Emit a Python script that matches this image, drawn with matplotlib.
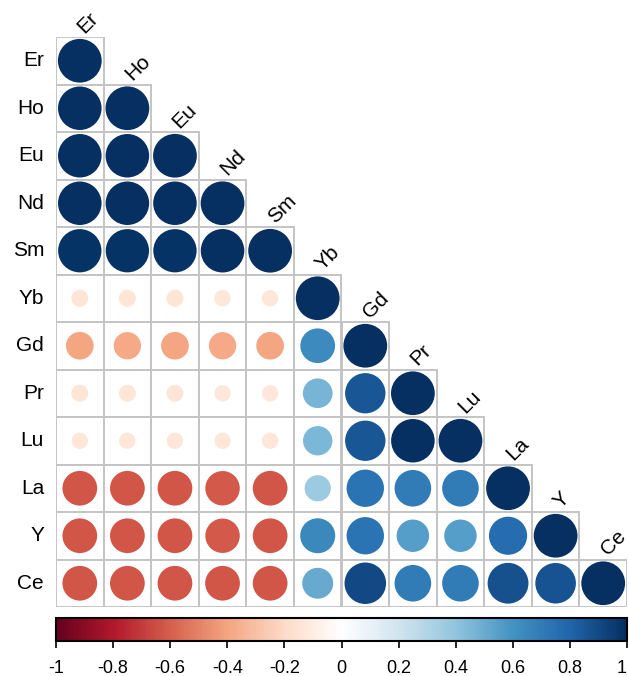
import numpy as np
import matplotlib
matplotlib.use("Agg")
import matplotlib.pyplot as plt
from matplotlib.colors import LinearSegmentedColormap, Normalize
from matplotlib.patches import Circle, Rectangle
import matplotlib.colorbar as mcolorbar

plt.rcParams['font.family'] = ['Liberation Sans', 'DejaVu Sans']

elements = ["Er", "Ho", "Eu", "Nd", "Sm", "Yb", "Gd", "Pr", "Lu", "La", "Y", "Ce"]

# lower-triangle correlations, one list per row (diagonal included)
r_er = [1.00]
r_ho = [0.99, 1.00]
r_eu = [0.99, 0.99, 1.00]
r_nd = [0.99, 0.99, 0.99, 1.00]
r_sm = [0.98, 0.98, 0.98, 0.99, 1.00]
r_yb = [-0.15, -0.15, -0.15, -0.14, -0.14, 1.00]
r_gd = [-0.40, -0.39, -0.40, -0.39, -0.40, 0.63, 1.00]
r_pr = [-0.15, -0.15, -0.15, -0.14, -0.14, 0.46, 0.85, 1.00]
r_lu = [-0.14, -0.14, -0.14, -0.14, -0.14, 0.45, 0.85, 0.99, 1.00]
r_la = [-0.63, -0.63, -0.63, -0.62, -0.63, 0.36, 0.73, 0.70, 0.70, 1.00]
r_y = [-0.63, -0.63, -0.63, -0.62, -0.63, 0.64, 0.73, 0.55, 0.55, 0.76, 1.00]
r_ce = [-0.63, -0.63, -0.63, -0.63, -0.63, 0.50, 0.90, 0.70, 0.70, 0.87, 0.86, 1.00]

rows = [r_er, r_ho, r_eu, r_nd, r_sm, r_yb, r_gd, r_pr, r_lu, r_la, r_y, r_ce]

cbar_ticks = [-1, -0.8, -0.6, -0.4, -0.2, 0, 0.2, 0.4, 0.6, 0.8, 1]
cbar_labels = ["-1", "-0.8", "-0.6", "-0.4", "-0.2", "0", "0.2", "0.4", "0.6", "0.8", "1"]

rdbu = LinearSegmentedColormap.from_list(
    "rdbu_corr",
    ["#67001F", "#B2182B", "#D6604D", "#F4A582", "#FDDBC7", "#FFFFFF",
     "#D1E5F0", "#92C5DE", "#4393C3", "#2166AC", "#053061"], N=200)
norm = Normalize(-1, 1)

W, H = 629, 676
fig = plt.figure(figsize=(W / 100, H / 100), dpi=100)

n = len(elements)
left, right, top, bottom = 56, 627, 37, 607
ax = fig.add_axes([left / W, 1 - bottom / H, (right - left) / W, (bottom - top) / H])
ax.set_xlim(0, n)
ax.set_ylim(n, 0)
ax.axis("off")

grid_color = "#C4C4C4"
for i, vals in enumerate(rows):
    for j, v in enumerate(vals):
        ax.add_patch(Rectangle((j, i), 1, 1, facecolor="white",
                               edgecolor=grid_color, lw=1.4, zorder=1))
for i, vals in enumerate(rows):
    for j, v in enumerate(vals):
        rad = 0.46 * np.sqrt(abs(v))
        ax.add_patch(Circle((j + 0.5, i + 0.5), rad, facecolor=rdbu(norm(v)),
                            edgecolor="none", zorder=2))

# row labels
for i, name in enumerate(elements):
    ax.text(-0.25, i + 0.5, name, ha="right", va="center", fontsize=15,
            clip_on=False)
# column labels along the diagonal
for j, name in enumerate(elements):
    ax.text(j + 0.6, j - 0.07, name, ha="left", va="baseline", rotation=45,
            rotation_mode="anchor", fontsize=15, clip_on=False)

# colour bar
cax = fig.add_axes([left / W, 1 - 641 / H, (right - left) / W, 23 / H])
cb = mcolorbar.ColorbarBase(cax, cmap=rdbu, norm=norm, orientation="horizontal",
                            ticks=cbar_ticks)
cb.set_ticklabels(cbar_labels)
cb.outline.set_linewidth(1.5)
cax.tick_params(axis="x", direction="out", length=5, width=1.2, pad=9,
                labelsize=13)
# keep the end label inside the figure edge
cax.get_xticklabels()[-1].set_horizontalalignment("right")

fig.savefig("out.png", dpi=100)
